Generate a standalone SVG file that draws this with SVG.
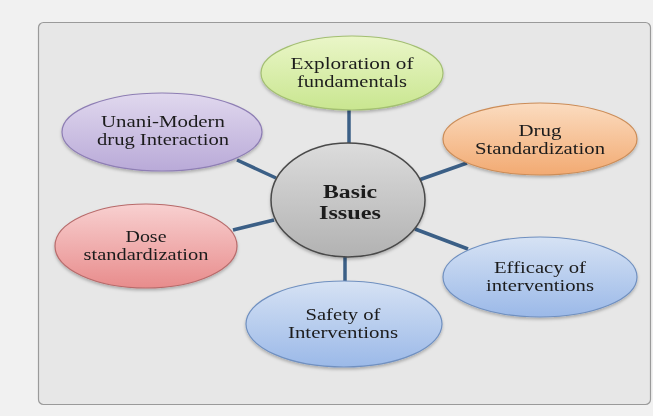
<svg xmlns="http://www.w3.org/2000/svg" width="653" height="416" viewBox="0 0 653 416">
<style>
.lbl{font-family:"Liberation Serif","Times New Roman",serif;font-size:16.5px;fill:#1c1c1c;text-anchor:middle}
.ctr{font-family:"Liberation Serif","Times New Roman",serif;font-size:18px;font-weight:bold;fill:#1c1c1c;text-anchor:middle}
.node{filter:url(#sh)}
.conn line{stroke:#3b5f86;stroke-width:3.5;stroke-linecap:butt}
</style>
<defs>
<filter id="sh" x="-20%" y="-20%" width="140%" height="150%">
<feDropShadow dx="0" dy="2" stdDeviation="1.5" flood-color="#000" flood-opacity="0.25"/>
</filter>
<linearGradient id="gGreen" x1="0" y1="0" x2="0" y2="1"><stop offset="0" stop-color="#eaf6c8"/><stop offset="1" stop-color="#c9e690"/></linearGradient>
<linearGradient id="gPurple" x1="0" y1="0" x2="0" y2="1"><stop offset="0" stop-color="#e0d8ee"/><stop offset="1" stop-color="#b9aad8"/></linearGradient>
<linearGradient id="gOrange" x1="0" y1="0" x2="0" y2="1"><stop offset="0" stop-color="#fbdcc0"/><stop offset="1" stop-color="#f2aa72"/></linearGradient>
<linearGradient id="gGray" x1="0" y1="0" x2="0" y2="1"><stop offset="0" stop-color="#dcdcdc"/><stop offset="1" stop-color="#b2b2b2"/></linearGradient>
<linearGradient id="gRed" x1="0" y1="0" x2="0" y2="1"><stop offset="0" stop-color="#f8d0d0"/><stop offset="1" stop-color="#e88c8c"/></linearGradient>
<linearGradient id="gBlue" x1="0" y1="0" x2="0" y2="1"><stop offset="0" stop-color="#d6e2f4"/><stop offset="1" stop-color="#9bb9e8"/></linearGradient>
</defs>
<rect x="0" y="0" width="653" height="416" fill="#f1f1f1"/>
<rect x="38.5" y="22.5" width="612" height="382" rx="5" fill="#e7e7e7" stroke="#9a9a9a" stroke-width="1.2"/>
<g class="conn">
<line x1="349" y1="108" x2="349" y2="145"/>
<line x1="237" y1="160" x2="276" y2="178"/>
<line x1="467" y1="163" x2="416" y2="181"/>
<line x1="233" y1="230" x2="274" y2="220"/>
<line x1="468" y1="249" x2="415" y2="229"/>
<line x1="345" y1="283" x2="345" y2="254"/>
</g>
<g id="n-exploration" class="node">
<ellipse cx="352" cy="73" rx="91" ry="37" fill="url(#gGreen)" stroke="#a3bf72" stroke-width="1.2"/>
<text class="lbl" x="352" y="69" textLength="123" lengthAdjust="spacingAndGlyphs">Exploration of</text>
<text class="lbl" x="352" y="87" textLength="110" lengthAdjust="spacingAndGlyphs">fundamentals</text>
</g>
<g id="n-unani" class="node">
<ellipse cx="162" cy="132" rx="100" ry="39" fill="url(#gPurple)" stroke="#8e7eb4" stroke-width="1.2"/>
<text class="lbl" x="163" y="127" textLength="124" lengthAdjust="spacingAndGlyphs">Unani-Modern</text>
<text class="lbl" x="163" y="145" textLength="132" lengthAdjust="spacingAndGlyphs">drug Interaction</text>
</g>
<g id="n-drug" class="node">
<ellipse cx="540" cy="139" rx="97" ry="36" fill="url(#gOrange)" stroke="#cc8d58" stroke-width="1.2"/>
<text class="lbl" x="540" y="136" textLength="43" lengthAdjust="spacingAndGlyphs">Drug</text>
<text class="lbl" x="540" y="154" textLength="130" lengthAdjust="spacingAndGlyphs">Standardization</text>
</g>
<g id="n-center" class="node">
<ellipse cx="348" cy="200" rx="77" ry="57" fill="url(#gGray)" stroke="#4a4a4a" stroke-width="1.5"/>
<text class="ctr" x="350" y="198" textLength="54" lengthAdjust="spacingAndGlyphs">Basic</text>
<text class="ctr" x="350" y="219" textLength="62" lengthAdjust="spacingAndGlyphs">Issues</text>
</g>
<g id="n-dose" class="node">
<ellipse cx="146" cy="246" rx="91" ry="42" fill="url(#gRed)" stroke="#b86b6b" stroke-width="1.2"/>
<text class="lbl" x="146" y="242" textLength="41" lengthAdjust="spacingAndGlyphs">Dose</text>
<text class="lbl" x="146" y="260" textLength="125" lengthAdjust="spacingAndGlyphs">standardization</text>
</g>
<g id="n-efficacy" class="node">
<ellipse cx="540" cy="277" rx="97" ry="40" fill="url(#gBlue)" stroke="#7090c0" stroke-width="1.2"/>
<text class="lbl" x="540" y="273" textLength="92" lengthAdjust="spacingAndGlyphs">Efficacy of</text>
<text class="lbl" x="540" y="291" textLength="108" lengthAdjust="spacingAndGlyphs">interventions</text>
</g>
<g id="n-safety" class="node">
<ellipse cx="344" cy="324" rx="98" ry="43" fill="url(#gBlue)" stroke="#7090c0" stroke-width="1.2"/>
<text class="lbl" x="343" y="320" textLength="75" lengthAdjust="spacingAndGlyphs">Safety of</text>
<text class="lbl" x="343" y="338" textLength="110" lengthAdjust="spacingAndGlyphs">Interventions</text>
</g>
</svg>
